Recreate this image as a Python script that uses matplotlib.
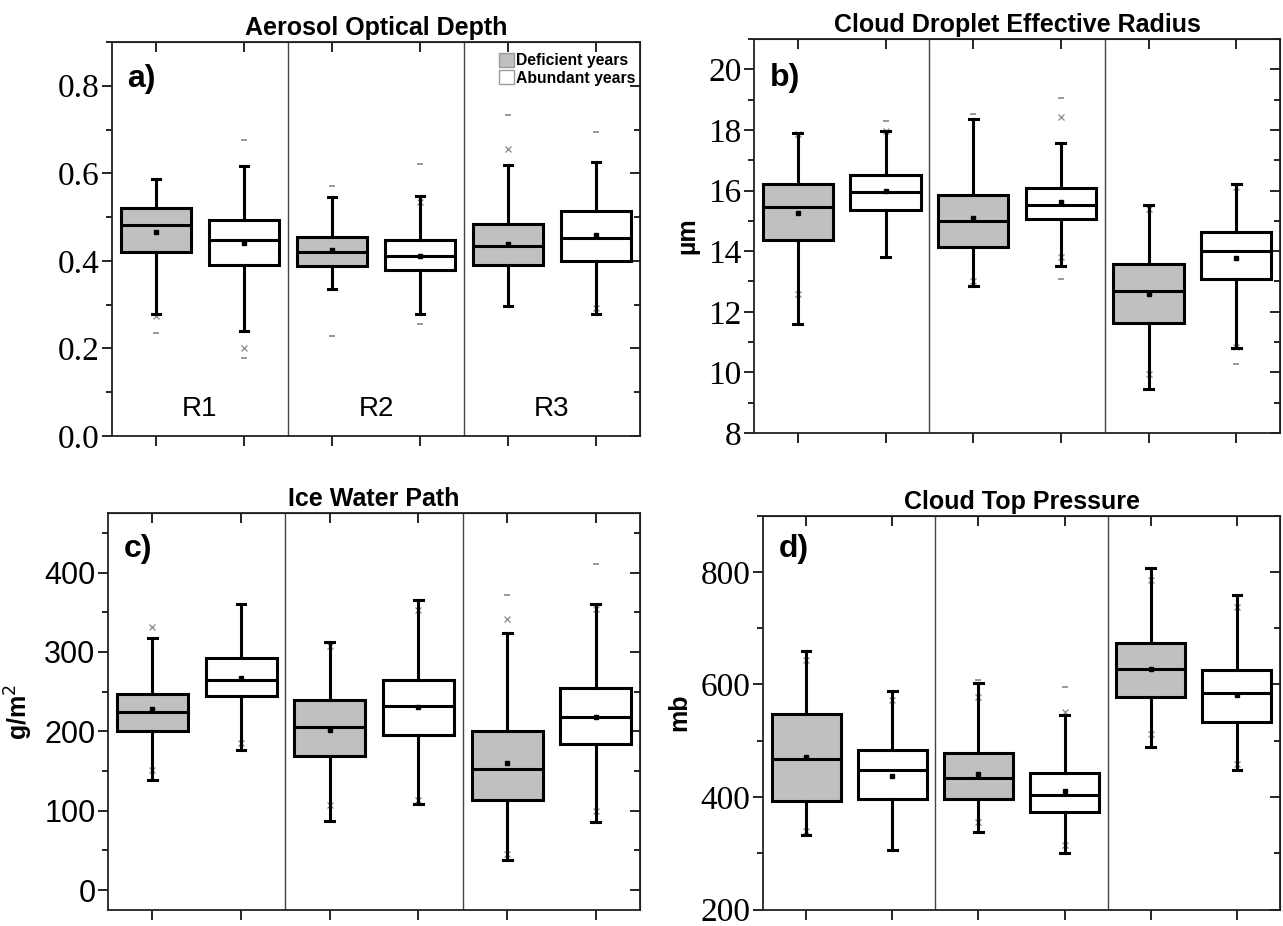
"""
Box charts of cloud / aerosol properties for deficient vs abundant years in R1-R3.
"""
import numpy as np
import matplotlib
matplotlib.use("Agg")
import matplotlib.pyplot as plt
from matplotlib.patches import Patch
from matplotlib.ticker import MultipleLocator, FormatStrFormatter

# ── Data (order: R1 def, R1 ab, R2 def, R2 ab, R3 def, R3 ab) ────────────────
regions = ["R1", "R2", "R3"]
legend_labels = ["Deficient years", "Abundant years"]

aod_lo   = [0.279, 0.240, 0.336, 0.279, 0.297, 0.278]
aod_q1   = [0.420, 0.391, 0.388, 0.380, 0.390, 0.399]
aod_med  = [0.481, 0.447, 0.421, 0.412, 0.433, 0.452]
aod_q3   = [0.521, 0.493, 0.455, 0.447, 0.485, 0.513]
aod_hi   = [0.588, 0.616, 0.546, 0.548, 0.618, 0.626]
aod_mean = [0.466, 0.440, 0.424, 0.411, 0.439, 0.458]
aod_x    = [[0.275], [0.200], [], [0.535], [0.656], [0.293]]
aod_dash = [[0.236], [0.677, 0.179], [0.572, 0.228], [0.622, 0.255], [0.732], [0.694]]

cer_lo   = [11.60, 13.82, 12.85, 13.52, 9.44, 10.80]
cer_q1   = [14.37, 15.35, 14.15, 15.06, 11.62, 13.08]
cer_med  = [15.46, 15.94, 14.98, 15.53, 12.70, 13.99]
cer_q3   = [16.23, 16.51, 15.86, 16.08, 13.58, 14.62]
cer_hi   = [17.91, 17.97, 18.35, 17.58, 15.52, 16.21]
cer_mean = [15.26, 15.99, 15.09, 15.63, 12.59, 13.76]
cer_x    = [[17.86, 12.59], [17.95], [13.03], [18.43, 13.80], [15.40, 9.95], [16.10, 10.85]]
cer_dash = [[], [18.30], [18.54], [19.06, 13.08], [], [10.28]]

iwp_lo   = [139, 176, 87, 108, 38, 86]
iwp_q1   = [200, 245, 169, 195, 114, 184]
iwp_med  = [224, 265, 206, 232, 152, 218]
iwp_q3   = [247, 292, 239, 265, 201, 255]
iwp_hi   = [317, 361, 313, 365, 324, 361]
iwp_mean = [228, 267, 202, 231, 160, 218]
iwp_x    = [[331, 151], [185], [307, 107], [353, 114], [341, 45], [354, 100]]
iwp_dash = [[], [], [], [], [372], [411]]

ctp_lo   = [332, 305, 337, 301, 488, 448]
ctp_q1   = [392, 397, 396, 374, 578, 534]
ctp_med  = [468, 447, 434, 404, 627, 585]
ctp_q3   = [547, 484, 478, 443, 674, 625]
ctp_hi   = [659, 588, 602, 545, 806, 759]
ctp_mean = [471, 438, 441, 411, 627, 581]
ctp_x    = [[643, 340], [572], [578, 355], [551, 315], [786, 512], [737, 458]]
ctp_dash = [[], [], [608], [596], [], []]

panels = [
    dict(title="Aerosol Optical Depth", tag="a)", ylabel=None,
         lo=aod_lo, q1=aod_q1, med=aod_med, q3=aod_q3, hi=aod_hi, mean=aod_mean,
         xs=aod_x, dashes=aod_dash, ylim=(0, 0.9), major=0.2, minor=0.1, fmt="%.1f",
         serif=True, rect=[0.0873, 0.5292, 0.4115, 0.4255], tagpos=(0.028, 0.905)),
    dict(title="Cloud Droplet Effective Radius", tag="b)", ylabel="µm",
         lo=cer_lo, q1=cer_q1, med=cer_med, q3=cer_q3, hi=cer_hi, mean=cer_mean,
         xs=cer_x, dashes=cer_dash, ylim=(8, 21), major=2, minor=1, fmt="%d",
         serif=True, rect=[0.5877, 0.5324, 0.41, 0.4255], tagpos=(0.03, 0.90),
         labx=-0.103),
    dict(title="Ice Water Path", tag="c)", ylabel="g/m$^2$",
         lo=iwp_lo, q1=iwp_q1, med=iwp_med, q3=iwp_q3, hi=iwp_hi, mean=iwp_mean,
         xs=iwp_x, dashes=iwp_dash, ylim=(-25, 475), major=100, minor=50, fmt="%d",
         serif=False, rect=[0.0842, 0.0173, 0.4147, 0.4287], tagpos=(0.03, 0.91),
         labx=-0.137),
    dict(title="Cloud Top Pressure", tag="d)", ylabel="mb",
         lo=ctp_lo, q1=ctp_q1, med=ctp_med, q3=ctp_q3, hi=ctp_hi, mean=ctp_mean,
         xs=ctp_x, dashes=ctp_dash, ylim=(200, 900), major=200, minor=100, fmt="%d",
         serif=True, rect=[0.5947, 0.0178, 0.403, 0.4255], tagpos=(0.031, 0.916),
         labx=-0.139),
]

GREY = "#c0c0c0"
SANS = "Liberation Sans"
SERIF = "Liberation Serif"
LW = 2.2
positions = np.arange(1, 7)

fig = plt.figure(figsize=(12.83, 9.26), dpi=100)

for p in panels:
    ax = fig.add_axes(p["rect"])
    stats = []
    for i in range(6):
        stats.append(dict(whislo=p["lo"][i], q1=p["q1"][i], med=p["med"][i],
                          q3=p["q3"][i], whishi=p["hi"][i], mean=p["mean"][i],
                          fliers=[]))
    bp = ax.bxp(stats, positions=positions, widths=0.8, patch_artist=True,
                showmeans=True, showfliers=False,
                boxprops=dict(edgecolor="black", linewidth=LW),
                medianprops=dict(color="black", linewidth=LW),
                whiskerprops=dict(color="black", linewidth=LW),
                capprops=dict(color="black", linewidth=LW),
                meanprops=dict(marker="s", markerfacecolor="black",
                               markeredgecolor="black", markersize=3.5),
                capwidths=0.1)
    for i, box in enumerate(bp["boxes"]):
        box.set_facecolor(GREY if i % 2 == 0 else "white")

    # outlier markers
    for i in range(6):
        for v in p["xs"][i]:
            ax.plot(positions[i], v, marker="x", color="#888888",
                    markersize=5, markeredgewidth=0.9, zorder=1)
        for v in p["dashes"][i]:
            ax.plot(positions[i], v, marker="_", color="#888888",
                    markersize=5, markeredgewidth=1.2, zorder=1)

    # region separators
    for xs in (2.5, 4.5):
        ax.axvline(xs, color="#444444", linewidth=1.0)

    ax.set_xlim(0.5, 6.5)
    ax.set_ylim(*p["ylim"])
    ax.set_xticks(positions)
    ax.set_xticklabels([])
    ax.yaxis.set_major_locator(MultipleLocator(p["major"]))
    ax.yaxis.set_minor_locator(MultipleLocator(p["minor"]))
    ax.yaxis.set_major_formatter(FormatStrFormatter(p["fmt"]))
    lo_lim = p["ylim"][0]
    ax.set_yticks([t for t in ax.get_yticks() if t >= lo_lim - 1e-9 and t <= p["ylim"][1]])
    ax.tick_params(axis="x", direction="out", length=7, width=1.2)
    ax.tick_params(axis="y", which="major", direction="out", length=7, width=1.2, pad=2)
    ax.tick_params(axis="y", which="minor", direction="out", length=4, width=1.2)
    for lab in ax.get_yticklabels():
        lab.set_fontfamily(SERIF if p["serif"] else SANS)
        lab.set_fontsize(24 if p["serif"] else 22)

    # mirrored ticks pointing inward on top and right
    top = ax.secondary_xaxis("top")
    top.set_xticks(positions)
    top.set_xticklabels([])
    top.tick_params(direction="in", length=7, width=1.2)
    right = ax.secondary_yaxis("right")
    right.yaxis.set_major_locator(MultipleLocator(p["major"]))
    right.yaxis.set_minor_locator(MultipleLocator(p["minor"]))
    right.tick_params(which="major", direction="in", length=7, width=1.2, labelright=False)
    right.tick_params(which="minor", direction="in", length=4, width=1.2)
    right.set_yticklabels([])

    for sp in ax.spines.values():
        sp.set_linewidth(1.3)
        sp.set_color("#222222")

    ax.set_title(p["title"], fontsize=18, fontweight="bold", family=SANS, pad=5)
    ax.text(p["tagpos"][0], p["tagpos"][1], p["tag"], transform=ax.transAxes,
            fontsize=23, fontweight="bold", family=SANS, va="center", ha="left")
    if p["ylabel"]:
        ax.set_ylabel(p["ylabel"], fontsize=18, fontweight="bold", family=SANS)
        ax.yaxis.set_label_coords(p["labx"], 0.5)

    if p["tag"] == "a)":
        for k, r in enumerate(regions):
            ax.text(1.5 + 2 * k, 0.062, r, ha="center", va="center",
                    fontsize=20, family=SANS)
        handles = [Patch(facecolor=GREY, edgecolor="#999999", linewidth=1.0),
                   Patch(facecolor="white", edgecolor="#999999", linewidth=1.0)]
        ax.legend(handles, legend_labels, loc="upper right", frameon=False,
                  bbox_to_anchor=(1.01, 0.997), borderaxespad=0.2,
                  handlelength=0.95, handleheight=1.0, handletextpad=0.15,
                  labelspacing=0.15,
                  prop=dict(family=SANS, weight="bold", size=11.3))

plt.savefig("out.png", dpi=100)
